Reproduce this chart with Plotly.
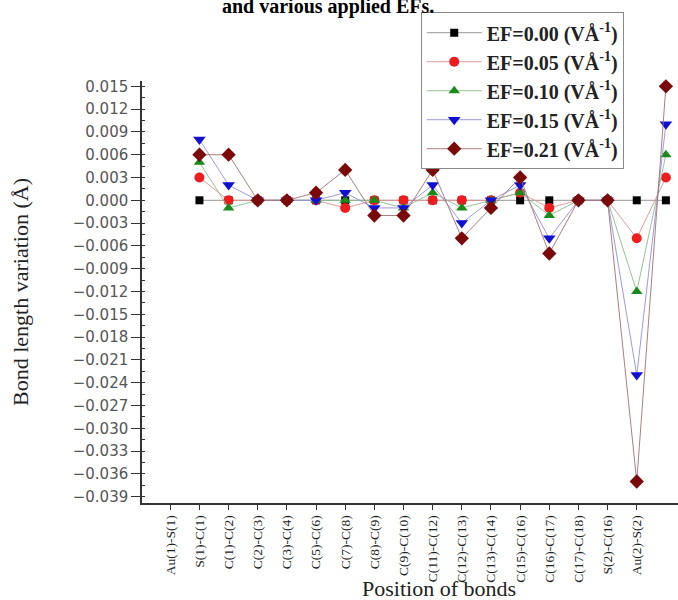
import plotly.graph_objects as go

bond_labels = ["Au(1)-S(1)", "S(1)-C(1)", "C(1)-C(2)", "C(2)-C(3)", "C(3)-C(4)",
               "C(5)-C(6)", "C(7)-C(8)", "C(8)-C(9)", "C(9)-C(10)", "C(11)-C(12)",
               "C(12)-C(13)", "C(13)-C(14)", "C(15)-C(16)", "C(16)-C(17)",
               "C(17)-C(18)", "S(2)-C(16)", "Au(2)-S(2)"]
tick_positions = list(range(len(bond_labels)))
# data points as plotted (shifted one position right of the tick labels)
x_points = list(range(1, 18))

ef_000 = [0, 0, 0, 0, 0, 0, 0, 0, 0, 0, 0, 0, 0, 0, 0, 0, 0]
ef_005 = [0.003, 0, 0, 0, 0, -0.001, 0, 0, 0, 0, 0, 0.001, -0.001, 0, 0, -0.005, 0.003]
ef_010 = [0.005, -0.001, 0, 0, 0, 0, 0, -0.001, 0.001, -0.001, 0, 0.001, -0.002, 0, 0, -0.012, 0.006]
ef_015 = [0.008, 0.002, 0, 0, 0, 0.001, -0.001, -0.001, 0.002, -0.003, 0, 0.002, -0.005, 0, 0, -0.023, 0.010]
ef_021 = [0.006, 0.006, 0, 0, 0.001, 0.004, -0.002, -0.002, 0.004, -0.005, -0.001, 0.003, -0.007, 0, 0, -0.037, 0.015]

series_names = ["EF=0.00 (VÅ<sup>-1</sup>)", "EF=0.05 (VÅ<sup>-1</sup>)", "EF=0.10 (VÅ<sup>-1</sup>)",
                "EF=0.15 (VÅ<sup>-1</sup>)", "EF=0.21 (VÅ<sup>-1</sup>)"]
series_values = [ef_000, ef_005, ef_010, ef_015, ef_021]
marker_colors = ["#000000", "#ee1c1c", "#1a8a1a", "#1010d0", "#7a0a0a"]
line_colors = ["#8a8a8a", "#e09090", "#8cba8c", "#9090d8", "#a07070"]
symbols = ["square", "circle", "triangle-up", "triangle-down", "diamond"]
sizes = [8, 10, 10, 11, 11]

fig = go.Figure()
for i, (name, vals) in enumerate(zip(series_names, series_values)):
    fig.add_trace(go.Scatter(
        x=x_points, y=vals, name=name, mode="lines+markers",
        line=dict(color=line_colors[i], width=0.9),
        marker=dict(symbol=symbols[i], color=marker_colors[i], size=sizes[i], line=dict(width=0)),
        cliponaxis=False, legendgroup=f"g{i}",
    ))

fig.update_layout(
    width=678, height=600,
    margin=dict(l=141.7, r=0, t=80.7, b=96.7),
    plot_bgcolor="white", paper_bgcolor="white",
    showlegend=True,
    legend=dict(
        x=0.52, y=1.163, xanchor="left", yanchor="top",
        bgcolor="white", bordercolor="#888888", borderwidth=1,
        font=dict(family="Liberation Serif", size=20, color="#222222", weight="bold"),
        tracegroupgap=0, itemwidth=55,
    ),
    xaxis=dict(
        range=[-0.97, 17.415], showgrid=False, zeroline=False,
        showline=True, linecolor="#333333", linewidth=1.5,
        tickmode="array", tickvals=tick_positions, ticktext=bond_labels,
        ticks="outside", ticklen=5, tickcolor="#333333", tickangle=-90,
        tickfont=dict(family="Liberation Serif", size=13.5, color="#222222"),
    ),
    yaxis=dict(
        range=[-0.03983, 0.0157], showgrid=False, zeroline=False,
        showline=True, linecolor="#333333", linewidth=1.5,
        tick0=0, dtick=0.003, tickformat=".3f",
        ticks="outside", ticklen=9, tickcolor="#333333",
        minor=dict(ticks="inside", ticklen=3, dtick=0.0015, tickcolor="#333333"),
        tickfont=dict(family="DejaVu Sans", size=15, color="#555555"),
        title=dict(text="Bond length variation (Å)", standoff=38,
                   font=dict(family="Liberation Serif", size=22, color="#222222")),
    ),
    annotations=[
        dict(text="Position of bonds", xref="paper", yref="paper",
             x=(439 - 141.7) / 536.3, y=(503.3 - 588.5) / 422.6, xanchor="center", yanchor="middle",
             showarrow=False, font=dict(family="Liberation Serif", size=22, color="#222222")),
        dict(text="and various applied EFs.", xref="paper", yref="paper",
             x=(328 - 141.7) / 536.3, y=(503.3 - 6) / 422.6, xanchor="center", yanchor="middle",
             showarrow=False, font=dict(family="Liberation Serif", size=20, color="#000000", weight="bold")),
    ],
)

fig.write_html("out.html")
